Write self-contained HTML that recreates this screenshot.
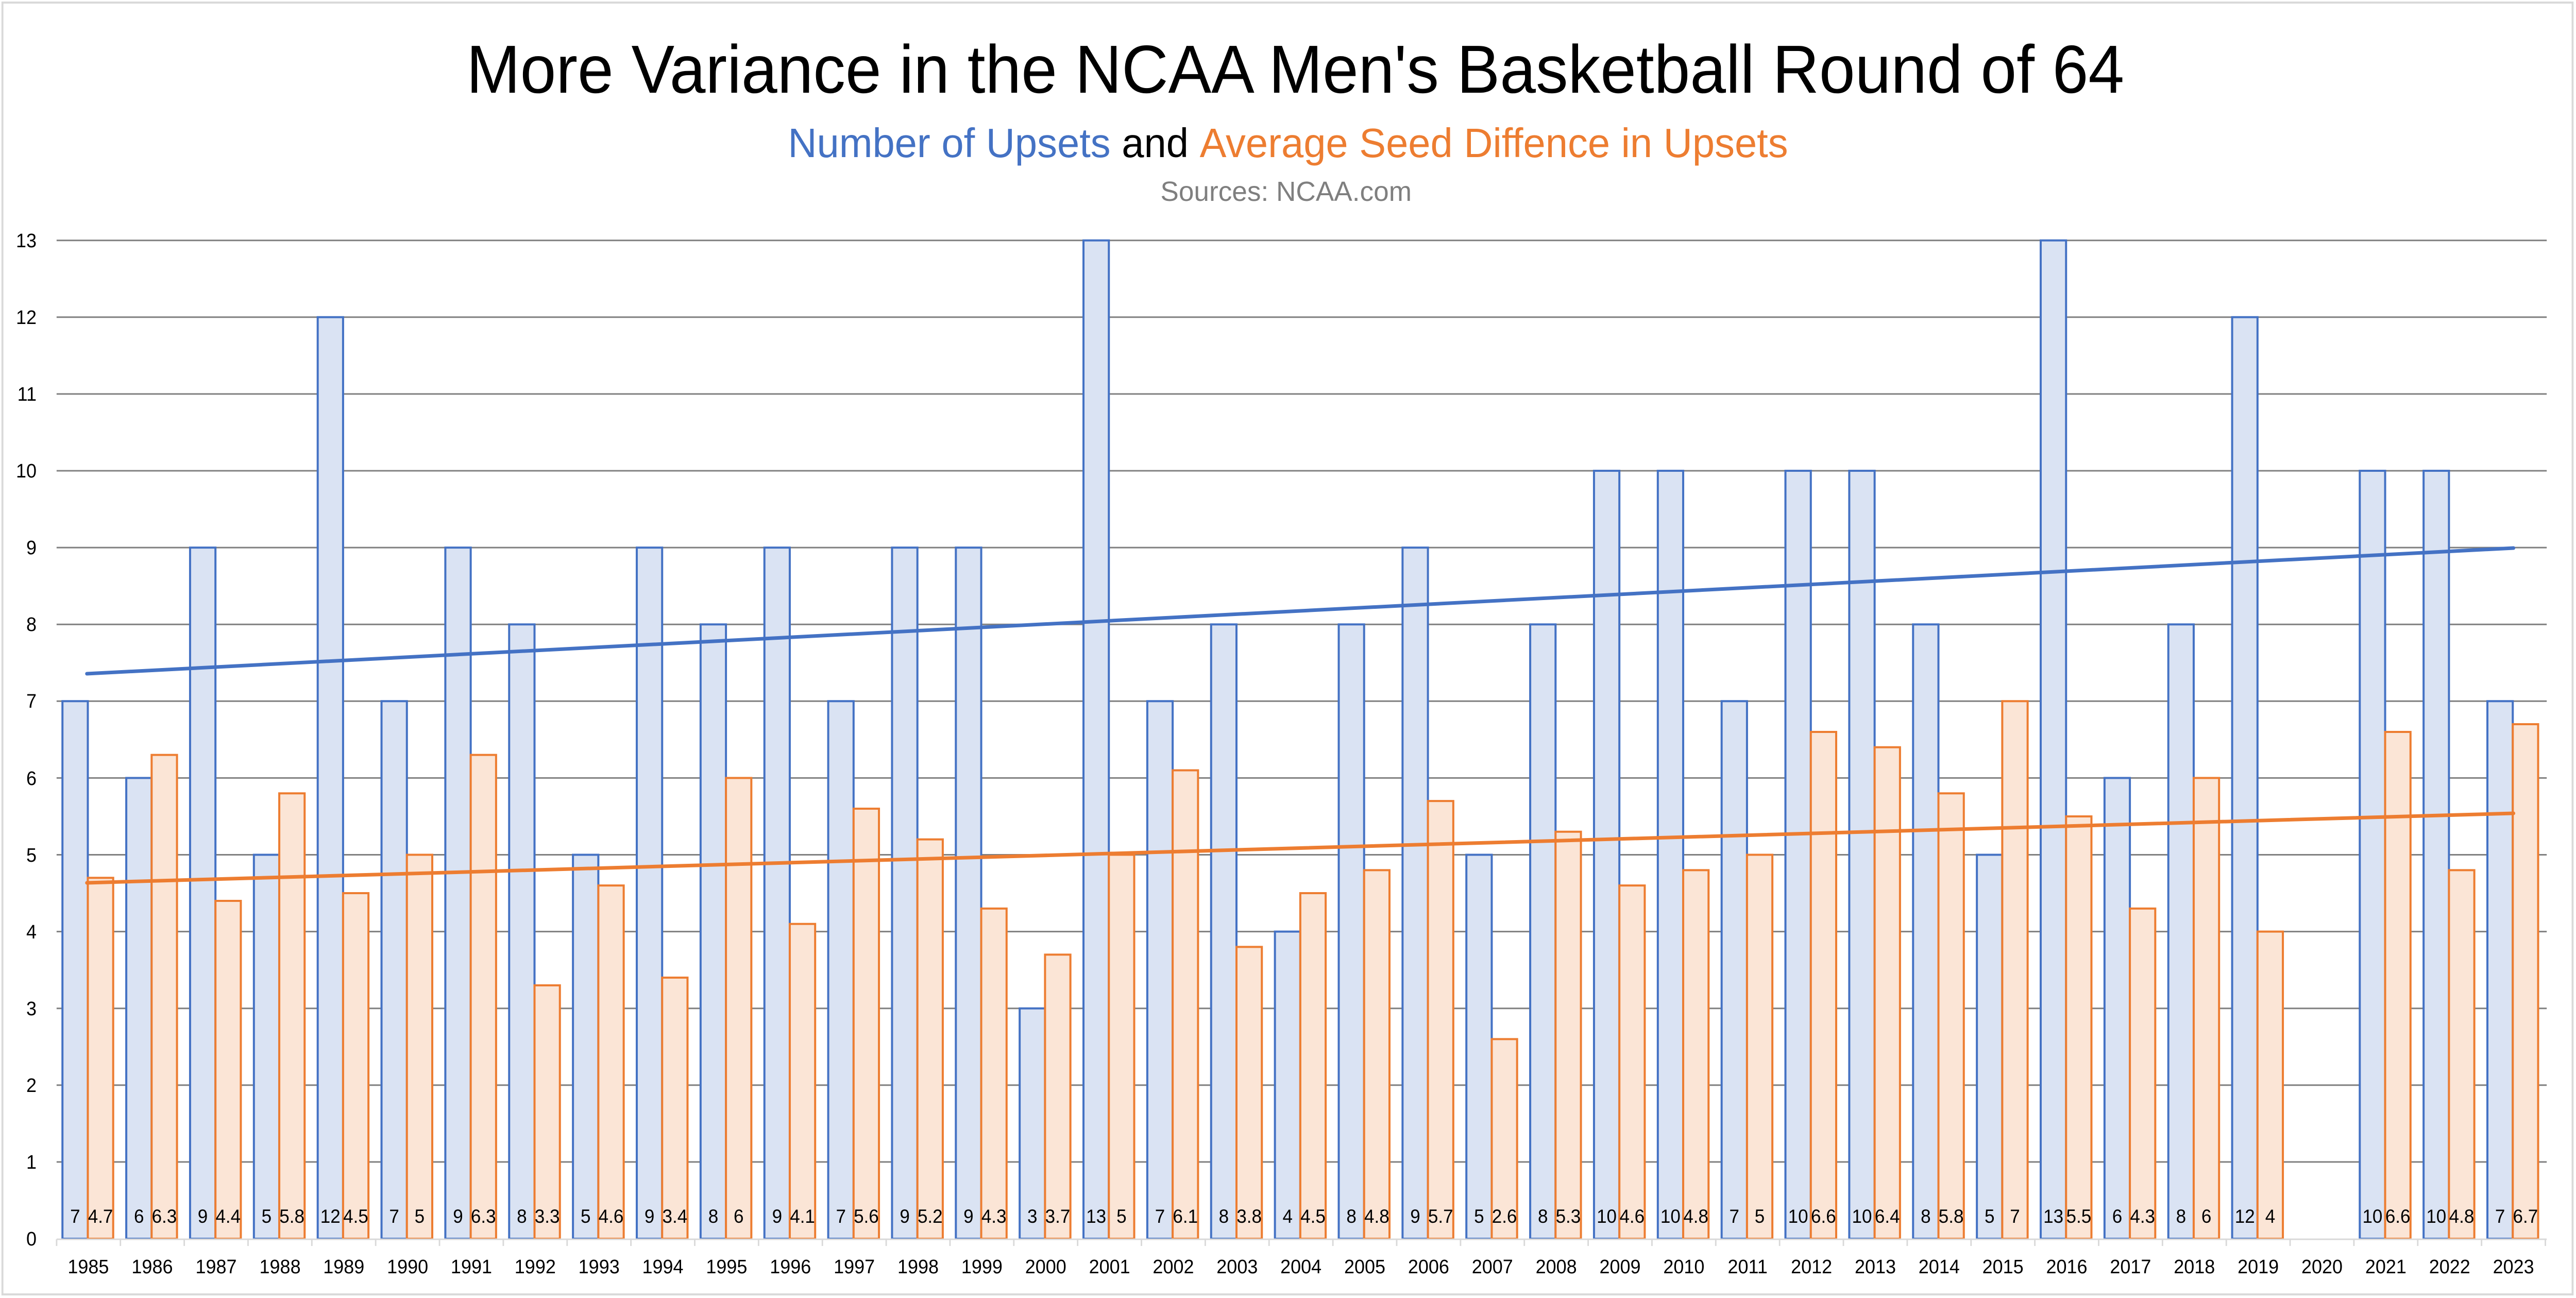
<!DOCTYPE html>
<html><head><meta charset="utf-8"><style>
html,body{margin:0;padding:0;background:#fff;width:100%;height:100%;overflow:hidden}
svg{display:block;width:100vw;height:100vh}
text{font-family:"Liberation Sans",sans-serif}
.g{stroke:#808080;stroke-width:3}
.b{fill:#DAE3F3;stroke:#4472C4;stroke-width:4}
.o{fill:#FBE5D6;stroke:#ED7D31;stroke-width:4}
.yl{font-size:38px;text-anchor:end;fill:#000}
.xl{font-size:38px;text-anchor:middle;fill:#000}
.dl{font-size:37px;text-anchor:middle;fill:#000}
</style></head><body>
<svg viewBox="0 0 5280 2520" preserveAspectRatio="none" xmlns="http://www.w3.org/2000/svg">
<rect x="0" y="0" width="5280" height="2520" fill="#fff"/>
<rect x="5" y="5" width="5268" height="2508" fill="none" stroke="#d9d9d9" stroke-width="4"/>
<text x="2655" y="180" font-size="132" text-anchor="middle" textLength="3398" lengthAdjust="spacingAndGlyphs">More Variance in the NCAA Men's Basketball Round of 64</text>
<text x="2640" y="305" font-size="80" text-anchor="middle" textLength="2050" lengthAdjust="spacingAndGlyphs"><tspan fill="#4472C4">Number of Upsets</tspan> <tspan fill="#000">and</tspan> <tspan fill="#ED7D31">Average Seed Diffence in Upsets</tspan></text>
<text x="2636" y="390" font-size="54" text-anchor="middle" fill="#7f7f7f" textLength="515" lengthAdjust="spacingAndGlyphs">Sources: NCAA.com</text>
<g class="g">
<line x1="116" x2="5220" y1="2255.9" y2="2255.9"/><line x1="116" x2="5220" y1="2106.8" y2="2106.8"/><line x1="116" x2="5220" y1="1957.7" y2="1957.7"/><line x1="116" x2="5220" y1="1808.6" y2="1808.6"/><line x1="116" x2="5220" y1="1659.5" y2="1659.5"/><line x1="116" x2="5220" y1="1510.4" y2="1510.4"/><line x1="116" x2="5220" y1="1361.3" y2="1361.3"/><line x1="116" x2="5220" y1="1212.2" y2="1212.2"/><line x1="116" x2="5220" y1="1063.1" y2="1063.1"/><line x1="116" x2="5220" y1="914" y2="914"/><line x1="116" x2="5220" y1="764.9" y2="764.9"/><line x1="116" x2="5220" y1="615.8" y2="615.8"/><line x1="116" x2="5220" y1="466.7" y2="466.7"/>
</g>
<g>
<text class="yl" x="75" y="2418">0</text><text class="yl" x="75" y="2269">1</text><text class="yl" x="75" y="2120">2</text><text class="yl" x="75" y="1971">3</text><text class="yl" x="75" y="1822">4</text><text class="yl" x="75" y="1673">5</text><text class="yl" x="75" y="1524">6</text><text class="yl" x="75" y="1374">7</text><text class="yl" x="75" y="1225">8</text><text class="yl" x="75" y="1076">9</text><text class="yl" x="75" y="927">10</text><text class="yl" x="75" y="778">11</text><text class="yl" x="75" y="629">12</text><text class="yl" x="75" y="480">13</text>
</g>
<g transform="matrix(1,0,0,-149.1,0,2405)">
<g class="b">
<rect vector-effect="non-scaling-stroke" x="128" y="0" width="52" height="7"/>
<rect vector-effect="non-scaling-stroke" x="258.8" y="0" width="52" height="6"/>
<rect vector-effect="non-scaling-stroke" x="389.6" y="0" width="52" height="9"/>
<rect vector-effect="non-scaling-stroke" x="520.4" y="0" width="52" height="5"/>
<rect vector-effect="non-scaling-stroke" x="651.2" y="0" width="52" height="12"/>
<rect vector-effect="non-scaling-stroke" x="782" y="0" width="52" height="7"/>
<rect vector-effect="non-scaling-stroke" x="912.8" y="0" width="52" height="9"/>
<rect vector-effect="non-scaling-stroke" x="1043.6" y="0" width="52" height="8"/>
<rect vector-effect="non-scaling-stroke" x="1174.4" y="0" width="52" height="5"/>
<rect vector-effect="non-scaling-stroke" x="1305.2" y="0" width="52" height="9"/>
<rect vector-effect="non-scaling-stroke" x="1436" y="0" width="52" height="8"/>
<rect vector-effect="non-scaling-stroke" x="1566.8" y="0" width="52" height="9"/>
<rect vector-effect="non-scaling-stroke" x="1697.6" y="0" width="52" height="7"/>
<rect vector-effect="non-scaling-stroke" x="1828.4" y="0" width="52" height="9"/>
<rect vector-effect="non-scaling-stroke" x="1959.2" y="0" width="52" height="9"/>
<rect vector-effect="non-scaling-stroke" x="2090" y="0" width="52" height="3"/>
<rect vector-effect="non-scaling-stroke" x="2220.8" y="0" width="52" height="13"/>
<rect vector-effect="non-scaling-stroke" x="2351.6" y="0" width="52" height="7"/>
<rect vector-effect="non-scaling-stroke" x="2482.4" y="0" width="52" height="8"/>
<rect vector-effect="non-scaling-stroke" x="2613.2" y="0" width="52" height="4"/>
<rect vector-effect="non-scaling-stroke" x="2744" y="0" width="52" height="8"/>
<rect vector-effect="non-scaling-stroke" x="2874.8" y="0" width="52" height="9"/>
<rect vector-effect="non-scaling-stroke" x="3005.6" y="0" width="52" height="5"/>
<rect vector-effect="non-scaling-stroke" x="3136.4" y="0" width="52" height="8"/>
<rect vector-effect="non-scaling-stroke" x="3267.2" y="0" width="52" height="10"/>
<rect vector-effect="non-scaling-stroke" x="3398" y="0" width="52" height="10"/>
<rect vector-effect="non-scaling-stroke" x="3528.8" y="0" width="52" height="7"/>
<rect vector-effect="non-scaling-stroke" x="3659.6" y="0" width="52" height="10"/>
<rect vector-effect="non-scaling-stroke" x="3790.4" y="0" width="52" height="10"/>
<rect vector-effect="non-scaling-stroke" x="3921.2" y="0" width="52" height="8"/>
<rect vector-effect="non-scaling-stroke" x="4052" y="0" width="52" height="5"/>
<rect vector-effect="non-scaling-stroke" x="4182.8" y="0" width="52" height="13"/>
<rect vector-effect="non-scaling-stroke" x="4313.6" y="0" width="52" height="6"/>
<rect vector-effect="non-scaling-stroke" x="4444.4" y="0" width="52" height="8"/>
<rect vector-effect="non-scaling-stroke" x="4575.2" y="0" width="52" height="12"/>
<rect vector-effect="non-scaling-stroke" x="4836.8" y="0" width="52" height="10"/>
<rect vector-effect="non-scaling-stroke" x="4967.6" y="0" width="52" height="10"/>
<rect vector-effect="non-scaling-stroke" x="5098.4" y="0" width="52" height="7"/>
</g>
<g class="o">
<rect vector-effect="non-scaling-stroke" x="180" y="0" width="52" height="4.7"/>
<rect vector-effect="non-scaling-stroke" x="310.8" y="0" width="52" height="6.3"/>
<rect vector-effect="non-scaling-stroke" x="441.6" y="0" width="52" height="4.4"/>
<rect vector-effect="non-scaling-stroke" x="572.4" y="0" width="52" height="5.8"/>
<rect vector-effect="non-scaling-stroke" x="703.2" y="0" width="52" height="4.5"/>
<rect vector-effect="non-scaling-stroke" x="834" y="0" width="52" height="5"/>
<rect vector-effect="non-scaling-stroke" x="964.8" y="0" width="52" height="6.3"/>
<rect vector-effect="non-scaling-stroke" x="1095.6" y="0" width="52" height="3.3"/>
<rect vector-effect="non-scaling-stroke" x="1226.4" y="0" width="52" height="4.6"/>
<rect vector-effect="non-scaling-stroke" x="1357.2" y="0" width="52" height="3.4"/>
<rect vector-effect="non-scaling-stroke" x="1488" y="0" width="52" height="6"/>
<rect vector-effect="non-scaling-stroke" x="1618.8" y="0" width="52" height="4.1"/>
<rect vector-effect="non-scaling-stroke" x="1749.6" y="0" width="52" height="5.6"/>
<rect vector-effect="non-scaling-stroke" x="1880.4" y="0" width="52" height="5.2"/>
<rect vector-effect="non-scaling-stroke" x="2011.2" y="0" width="52" height="4.3"/>
<rect vector-effect="non-scaling-stroke" x="2142" y="0" width="52" height="3.7"/>
<rect vector-effect="non-scaling-stroke" x="2272.8" y="0" width="52" height="5"/>
<rect vector-effect="non-scaling-stroke" x="2403.6" y="0" width="52" height="6.1"/>
<rect vector-effect="non-scaling-stroke" x="2534.4" y="0" width="52" height="3.8"/>
<rect vector-effect="non-scaling-stroke" x="2665.2" y="0" width="52" height="4.5"/>
<rect vector-effect="non-scaling-stroke" x="2796" y="0" width="52" height="4.8"/>
<rect vector-effect="non-scaling-stroke" x="2926.8" y="0" width="52" height="5.7"/>
<rect vector-effect="non-scaling-stroke" x="3057.6" y="0" width="52" height="2.6"/>
<rect vector-effect="non-scaling-stroke" x="3188.4" y="0" width="52" height="5.3"/>
<rect vector-effect="non-scaling-stroke" x="3319.2" y="0" width="52" height="4.6"/>
<rect vector-effect="non-scaling-stroke" x="3450" y="0" width="52" height="4.8"/>
<rect vector-effect="non-scaling-stroke" x="3580.8" y="0" width="52" height="5"/>
<rect vector-effect="non-scaling-stroke" x="3711.6" y="0" width="52" height="6.6"/>
<rect vector-effect="non-scaling-stroke" x="3842.4" y="0" width="52" height="6.4"/>
<rect vector-effect="non-scaling-stroke" x="3973.2" y="0" width="52" height="5.8"/>
<rect vector-effect="non-scaling-stroke" x="4104" y="0" width="52" height="7"/>
<rect vector-effect="non-scaling-stroke" x="4234.8" y="0" width="52" height="5.5"/>
<rect vector-effect="non-scaling-stroke" x="4365.6" y="0" width="52" height="4.3"/>
<rect vector-effect="non-scaling-stroke" x="4496.4" y="0" width="52" height="6"/>
<rect vector-effect="non-scaling-stroke" x="4627.2" y="0" width="52" height="4"/>
<rect vector-effect="non-scaling-stroke" x="4888.8" y="0" width="52" height="6.6"/>
<rect vector-effect="non-scaling-stroke" x="5019.6" y="0" width="52" height="4.8"/>
<rect vector-effect="non-scaling-stroke" x="5150.4" y="0" width="52" height="6.7"/>
</g>
</g>
<line x1="116" x2="5220" y1="2406" y2="2406" stroke="#d9d9d9" stroke-width="3"/>
<g stroke="#d9d9d9" stroke-width="3">
<line x1="116" x2="116" y1="2406" y2="2419"/><line x1="246.8" x2="246.8" y1="2406" y2="2419"/><line x1="377.6" x2="377.6" y1="2406" y2="2419"/><line x1="508.4" x2="508.4" y1="2406" y2="2419"/><line x1="639.2" x2="639.2" y1="2406" y2="2419"/><line x1="770" x2="770" y1="2406" y2="2419"/><line x1="900.8" x2="900.8" y1="2406" y2="2419"/><line x1="1031.6" x2="1031.6" y1="2406" y2="2419"/><line x1="1162.4" x2="1162.4" y1="2406" y2="2419"/><line x1="1293.2" x2="1293.2" y1="2406" y2="2419"/><line x1="1424" x2="1424" y1="2406" y2="2419"/><line x1="1554.8" x2="1554.8" y1="2406" y2="2419"/><line x1="1685.6" x2="1685.6" y1="2406" y2="2419"/><line x1="1816.4" x2="1816.4" y1="2406" y2="2419"/><line x1="1947.2" x2="1947.2" y1="2406" y2="2419"/><line x1="2078" x2="2078" y1="2406" y2="2419"/><line x1="2208.8" x2="2208.8" y1="2406" y2="2419"/><line x1="2339.6" x2="2339.6" y1="2406" y2="2419"/><line x1="2470.4" x2="2470.4" y1="2406" y2="2419"/><line x1="2601.2" x2="2601.2" y1="2406" y2="2419"/><line x1="2732" x2="2732" y1="2406" y2="2419"/><line x1="2862.8" x2="2862.8" y1="2406" y2="2419"/><line x1="2993.6" x2="2993.6" y1="2406" y2="2419"/><line x1="3124.4" x2="3124.4" y1="2406" y2="2419"/><line x1="3255.2" x2="3255.2" y1="2406" y2="2419"/><line x1="3386" x2="3386" y1="2406" y2="2419"/><line x1="3516.8" x2="3516.8" y1="2406" y2="2419"/><line x1="3647.6" x2="3647.6" y1="2406" y2="2419"/><line x1="3778.4" x2="3778.4" y1="2406" y2="2419"/><line x1="3909.2" x2="3909.2" y1="2406" y2="2419"/><line x1="4040" x2="4040" y1="2406" y2="2419"/><line x1="4170.8" x2="4170.8" y1="2406" y2="2419"/><line x1="4301.6" x2="4301.6" y1="2406" y2="2419"/><line x1="4432.4" x2="4432.4" y1="2406" y2="2419"/><line x1="4563.2" x2="4563.2" y1="2406" y2="2419"/><line x1="4694" x2="4694" y1="2406" y2="2419"/><line x1="4824.8" x2="4824.8" y1="2406" y2="2419"/><line x1="4955.6" x2="4955.6" y1="2406" y2="2419"/><line x1="5086.4" x2="5086.4" y1="2406" y2="2419"/><line x1="5217.2" x2="5217.2" y1="2406" y2="2419"/>
</g>
<line x1="178" y1="1308" x2="5152" y2="1064" stroke="#4472C4" stroke-width="7" stroke-linecap="round"/>
<line x1="178" y1="1714" x2="5152" y2="1579" stroke="#ED7D31" stroke-width="7" stroke-linecap="round"/>
<g class="dl">
<text x="154" y="2374">7</text><text x="206" y="2374">4.7</text>
<text x="284.8" y="2374">6</text><text x="336.8" y="2374">6.3</text>
<text x="415.6" y="2374">9</text><text x="467.6" y="2374">4.4</text>
<text x="546.4" y="2374">5</text><text x="598.4" y="2374">5.8</text>
<text x="677.2" y="2374">12</text><text x="729.2" y="2374">4.5</text>
<text x="808" y="2374">7</text><text x="860" y="2374">5</text>
<text x="938.8" y="2374">9</text><text x="990.8" y="2374">6.3</text>
<text x="1069.6" y="2374">8</text><text x="1121.6" y="2374">3.3</text>
<text x="1200.4" y="2374">5</text><text x="1252.4" y="2374">4.6</text>
<text x="1331.2" y="2374">9</text><text x="1383.2" y="2374">3.4</text>
<text x="1462" y="2374">8</text><text x="1514" y="2374">6</text>
<text x="1592.8" y="2374">9</text><text x="1644.8" y="2374">4.1</text>
<text x="1723.6" y="2374">7</text><text x="1775.6" y="2374">5.6</text>
<text x="1854.4" y="2374">9</text><text x="1906.4" y="2374">5.2</text>
<text x="1985.2" y="2374">9</text><text x="2037.2" y="2374">4.3</text>
<text x="2116" y="2374">3</text><text x="2168" y="2374">3.7</text>
<text x="2246.8" y="2374">13</text><text x="2298.8" y="2374">5</text>
<text x="2377.6" y="2374">7</text><text x="2429.6" y="2374">6.1</text>
<text x="2508.4" y="2374">8</text><text x="2560.4" y="2374">3.8</text>
<text x="2639.2" y="2374">4</text><text x="2691.2" y="2374">4.5</text>
<text x="2770" y="2374">8</text><text x="2822" y="2374">4.8</text>
<text x="2900.8" y="2374">9</text><text x="2952.8" y="2374">5.7</text>
<text x="3031.6" y="2374">5</text><text x="3083.6" y="2374">2.6</text>
<text x="3162.4" y="2374">8</text><text x="3214.4" y="2374">5.3</text>
<text x="3293.2" y="2374">10</text><text x="3345.2" y="2374">4.6</text>
<text x="3424" y="2374">10</text><text x="3476" y="2374">4.8</text>
<text x="3554.8" y="2374">7</text><text x="3606.8" y="2374">5</text>
<text x="3685.6" y="2374">10</text><text x="3737.6" y="2374">6.6</text>
<text x="3816.4" y="2374">10</text><text x="3868.4" y="2374">6.4</text>
<text x="3947.2" y="2374">8</text><text x="3999.2" y="2374">5.8</text>
<text x="4078" y="2374">5</text><text x="4130" y="2374">7</text>
<text x="4208.8" y="2374">13</text><text x="4260.8" y="2374">5.5</text>
<text x="4339.6" y="2374">6</text><text x="4391.6" y="2374">4.3</text>
<text x="4470.4" y="2374">8</text><text x="4522.4" y="2374">6</text>
<text x="4601.2" y="2374">12</text><text x="4653.2" y="2374">4</text>
<text x="4862.8" y="2374">10</text><text x="4914.8" y="2374">6.6</text>
<text x="4993.6" y="2374">10</text><text x="5045.6" y="2374">4.8</text>
<text x="5124.4" y="2374">7</text><text x="5176.4" y="2374">6.7</text>
</g>
<g class="xl">
<text x="181" y="2472">1985</text><text x="312" y="2472">1986</text><text x="443" y="2472">1987</text><text x="574" y="2472">1988</text><text x="704.6" y="2472">1989</text><text x="835.4" y="2472">1990</text><text x="966.2" y="2472">1991</text><text x="1097" y="2472">1992</text><text x="1227.8" y="2472">1993</text><text x="1358.6" y="2472">1994</text><text x="1489.4" y="2472">1995</text><text x="1620.2" y="2472">1996</text><text x="1751" y="2472">1997</text><text x="1881.8" y="2472">1998</text><text x="2012.6" y="2472">1999</text><text x="2143.4" y="2472">2000</text><text x="2274.2" y="2472">2001</text><text x="2405" y="2472">2002</text><text x="2535.8" y="2472">2003</text><text x="2666.6" y="2472">2004</text><text x="2797.4" y="2472">2005</text><text x="2928.2" y="2472">2006</text><text x="3059" y="2472">2007</text><text x="3189.8" y="2472">2008</text><text x="3320.6" y="2472">2009</text><text x="3451.4" y="2472">2010</text><text x="3582.2" y="2472">2011</text><text x="3713" y="2472">2012</text><text x="3843.8" y="2472">2013</text><text x="3974.6" y="2472">2014</text><text x="4105.4" y="2472">2015</text><text x="4236.2" y="2472">2016</text><text x="4367" y="2472">2017</text><text x="4497.8" y="2472">2018</text><text x="4628.6" y="2472">2019</text><text x="4759.4" y="2472">2020</text><text x="4890.2" y="2472">2021</text><text x="5021" y="2472">2022</text><text x="5151.8" y="2472">2023</text>
</g>
</svg>
</body></html>
